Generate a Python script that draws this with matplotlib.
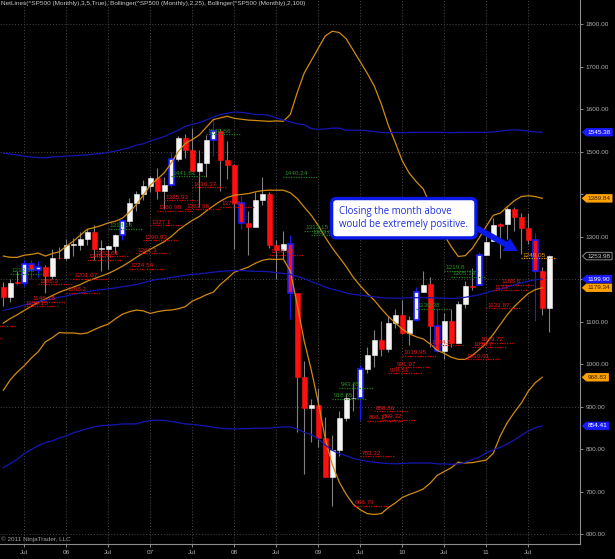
import numpy as np
import matplotlib
matplotlib.use("Agg")
import matplotlib.pyplot as plt
from matplotlib.path import Path

plt.rcParams['font.family'] = ['Liberation Sans', 'DejaVu Sans']

# month index: 0 = Jul 2005, bars run Apr 2005 .. Oct 2011
months = np.arange(-3, 76)
opens = [1180.59, 1156.85, 1191.50, 1191.33, 1234.18, 1220.33, 1228.81, 1207.01, 1249.48, 1248.29,
         1280.08, 1280.66, 1294.83, 1310.61, 1270.09, 1270.20, 1276.66, 1303.82, 1335.85, 1377.94,
         1400.63, 1418.30, 1438.24, 1406.82, 1420.86, 1482.37, 1530.62, 1503.35, 1455.27, 1473.99,
         1526.75, 1549.38, 1481.14, 1468.36, 1378.55, 1330.63, 1322.70, 1385.59, 1400.38, 1280.00,
         1267.38, 1282.83, 1166.36, 968.75, 896.24, 903.25, 825.88, 735.09, 797.87, 872.81,
         919.14, 919.32, 987.48, 1020.62, 1057.08, 1036.19, 1095.63, 1115.10, 1073.87, 1104.49,
         1169.43, 1188.58, 1089.41, 1030.71, 1101.60, 1049.72, 1141.20, 1183.26, 1186.60, 1257.62,
         1289.14, 1328.64, 1329.48, 1365.21, 1345.20, 1321.00, 1292.59, 1219.12, 1131.21]
highs = [1191.88, 1199.56, 1219.59, 1245.15, 1245.86, 1243.13, 1233.34, 1270.64, 1275.80, 1294.90,
         1297.57, 1310.88, 1318.16, 1326.70, 1290.68, 1280.42, 1306.74, 1340.28, 1389.45, 1407.89,
         1431.81, 1441.61, 1461.57, 1438.89, 1498.02, 1535.56, 1540.56, 1555.90, 1503.89, 1538.74,
         1576.09, 1552.76, 1523.57, 1471.77, 1396.02, 1359.68, 1404.57, 1440.24, 1404.05, 1292.17,
         1313.15, 1303.04, 1167.03, 1007.51, 918.85, 943.85, 875.01, 832.98, 888.70, 930.17,
         956.23, 996.68, 1039.47, 1080.15, 1101.36, 1113.69, 1130.38, 1150.45, 1112.42, 1180.69,
         1219.80, 1205.13, 1131.23, 1120.95, 1129.24, 1148.90, 1196.14, 1227.08, 1262.60, 1302.67,
         1344.07, 1332.28, 1370.58, 1370.58, 1356.48, 1356.48, 1307.38, 1229.29, 1256.55]
lows = [1136.15, 1146.18, 1188.30, 1183.55, 1201.07, 1205.35, 1168.20, 1201.07, 1246.59, 1245.74,
        1253.61, 1268.42, 1280.74, 1245.34, 1219.29, 1224.54, 1261.30, 1290.93, 1327.10, 1360.98,
        1385.93, 1403.97, 1389.42, 1363.98, 1416.37, 1476.70, 1484.18, 1454.25, 1370.60, 1439.29,
        1489.56, 1406.10, 1435.65, 1270.05, 1316.75, 1256.98, 1324.35, 1373.07, 1272.00, 1200.44,
        1247.45, 1106.42, 839.80, 741.02, 815.69, 804.30, 734.52, 666.79, 783.32, 866.10,
        888.86, 869.32, 978.51, 991.97, 1019.95, 1029.38, 1085.89, 1071.59, 1044.50, 1101.36,
        1169.43, 1040.78, 1028.33, 1010.91, 1039.70, 1049.72, 1131.87, 1173.00, 1186.60, 1257.62,
        1289.14, 1249.05, 1294.70, 1311.80, 1258.07, 1282.86, 1101.54, 1114.22, 1074.77]
closes = [1156.85, 1191.50, 1191.33, 1234.18, 1220.33, 1228.81, 1207.01, 1249.48, 1248.29, 1280.08,
          1280.66, 1294.83, 1310.61, 1270.09, 1270.20, 1276.66, 1303.82, 1335.85, 1377.94, 1400.63,
          1418.30, 1438.24, 1406.82, 1420.86, 1482.37, 1530.62, 1503.35, 1455.27, 1473.99, 1526.75,
          1549.38, 1481.14, 1468.36, 1378.55, 1330.63, 1322.70, 1385.59, 1400.38, 1280.00, 1267.38,
          1282.83, 1166.36, 968.75, 896.24, 903.25, 825.88, 735.09, 797.87, 872.81, 919.14,
          919.32, 987.48, 1020.62, 1057.08, 1036.19, 1095.63, 1115.10, 1073.87, 1104.49, 1169.43,
          1186.69, 1089.41, 1030.71, 1101.60, 1049.33, 1141.20, 1183.26, 1180.55, 1257.64, 1286.12,
          1327.22, 1325.83, 1363.61, 1345.20, 1320.64, 1292.28, 1218.89, 1131.42, 1253.98]

# Bollinger bands, Apr 2005 .. Sep 2011
band_months = np.arange(-3, 75)
up25 = [1254, 1251, 1251, 1256, 1258, 1261, 1254, 1260, 1264, 1277, 1289, 1303, 1317, 1321, 1326, 1332,
        1336, 1343, 1357, 1375, 1397, 1421, 1435, 1450, 1473, 1500, 1519, 1528, 1539, 1557, 1575, 1579,
        1583, 1578, 1576, 1574, 1573, 1572, 1571, 1572, 1571, 1587, 1639, 1685, 1714, 1743, 1772, 1783,
        1780, 1765, 1738, 1711, 1684, 1654, 1612, 1562, 1521, 1478, 1449, 1429, 1412, 1374, 1326, 1303,
        1276, 1253, 1255, 1272, 1297, 1324, 1350, 1355, 1370, 1384, 1394, 1396, 1394, 1389.84]
mid25 = [1096, 1107, 1116, 1126, 1136, 1145, 1153, 1161, 1169, 1175, 1181, 1187, 1195, 1201, 1207, 1213,
         1221, 1230, 1240, 1251, 1261, 1270, 1279, 1288, 1300, 1315, 1327, 1338, 1347, 1360, 1372, 1383,
         1392, 1397, 1399, 1401, 1405, 1408, 1409, 1409, 1409, 1403, 1389, 1369, 1350, 1326, 1298, 1273,
         1251, 1229, 1204, 1184, 1166, 1150, 1130, 1112, 1097, 1082, 1071, 1064, 1059, 1047, 1032, 1025,
         1016, 1011, 1011, 1020, 1034, 1049, 1070, 1093, 1116, 1135, 1151, 1166, 1175, 1179.34]
lo25 = [938, 963, 981, 996, 1014, 1029, 1052, 1062, 1074, 1073, 1073, 1071, 1073, 1081, 1088, 1094,
        1106, 1117, 1123, 1127, 1125, 1119, 1123, 1126, 1127, 1130, 1135, 1148, 1155, 1163, 1169, 1187,
        1201, 1216, 1222, 1228, 1237, 1244, 1247, 1246, 1247, 1219, 1139, 1053, 986, 909, 824, 763,
        722, 693, 670, 657, 648, 646, 648, 662, 673, 686, 693, 699, 706, 720, 738, 747,
        756, 769, 767, 768, 771, 774, 790, 831, 862, 886, 908, 936, 956, 968.83]
up100 = [1496, 1494, 1492, 1489, 1487, 1486, 1485, 1487, 1488, 1489, 1490, 1491, 1492, 1494, 1495, 1498,
         1501, 1505, 1509, 1515, 1518, 1525, 1530, 1535, 1543, 1550, 1559, 1564, 1568, 1574, 1581, 1587,
         1590, 1593, 1592, 1590, 1587, 1587, 1585, 1579, 1574, 1570, 1565, 1563, 1554, 1552, 1553, 1555,
         1555, 1550, 1550, 1550, 1549, 1547, 1545, 1544, 1545, 1544, 1545, 1545, 1545, 1545, 1545, 1545,
         1544, 1545, 1545, 1545, 1545, 1545, 1546, 1548, 1550, 1551, 1550, 1548, 1546, 1545.38]
mid100 = [1126, 1130, 1134, 1139, 1143, 1147, 1150, 1153, 1157, 1160, 1164, 1167, 1170, 1173, 1175, 1177,
          1179, 1182, 1184, 1187, 1191, 1196, 1199, 1201, 1204, 1206, 1209, 1211, 1212, 1214, 1216, 1218,
          1219, 1220, 1220, 1219, 1218, 1218, 1217, 1215, 1213, 1211, 1206, 1201, 1194, 1188, 1181, 1176,
          1172, 1167, 1164, 1162, 1160, 1158, 1156, 1155, 1155, 1155, 1156, 1156, 1156, 1156, 1155, 1155,
          1154, 1155, 1157, 1160, 1163, 1168, 1172, 1176, 1181, 1186, 1191, 1195, 1198, 1199.90]
lo100 = [756, 766, 776, 789, 799, 808, 815, 819, 826, 831, 838, 843, 848, 852, 855, 856,
         857, 859, 859, 859, 864, 867, 868, 867, 865, 862, 859, 858, 856, 854, 851, 849,
         848, 847, 848, 848, 849, 849, 849, 851, 852, 852, 847, 839, 834, 824, 809, 797,
         789, 784, 778, 774, 771, 769, 767, 766, 765, 766, 767, 767, 767, 767, 765, 765,
         764, 765, 769, 775, 781, 791, 798, 804, 812, 821, 832, 842, 850, 854.41]

highlight = [0, 1, 2, 14, 21, 27, 31, 38, 48, 56, 59, 65, 73]

# NetLines: month where the line starts, price, kind
net_start = [-8, -6, 0, 1, 2, 6, 7, 9, 10, 15, 16, 17, 18, 19, 20, 23, 24, 28, 35,
             47, 48, 49, 50, 51, 52, 53, 54, 58, 63, 64, 65, 66, 67, 68,
             -2, 12, 21, 26, 37, 40, 41, 44, 45, 56, 60, 61,
             71]
net_price = [1060.72, 1090.19, 1136.15, 1146.18, 1188.30, 1168.20, 1201.07, 1245.74, 1253.61, 1224.54,
             1261.30, 1290.93, 1327.10, 1360.98, 1385.93, 1363.98, 1416.37, 1370.60, 1256.98,
             666.79, 783.32, 866.10, 888.86, 869.32, 978.51, 991.97, 1019.95, 1044.50, 1010.91,
             1039.70, 1049.72, 1131.87, 1173.00, 1186.60,
             1212.16, 1318.16, 1441.61, 1540.56, 1440.24, 1313.15, 1303.04, 918.85, 943.85, 1130.38,
             1219.80, 1205.13,
             1249.05]
net_kind = ['low'] * 34 + ['high'] * 12 + ['hold']
net_colors = {'low': ('#d00000', '#e81818'), 'high': ('#1c7a1c', '#2a8c2a'), 'hold': ('#e08a00', '#f09a10')}

date_ticks = [0, 6, 12, 18, 24, 30, 36, 42, 48, 54, 60, 66, 72]
date_labels = ['Jul', '06', 'Jul', '07', 'Jul', '08', 'Jul', '09', 'Jul', '10', 'Jul', '11', 'Jul']
price_ticks = list(range(600, 1900, 100))
grid_levels = [600, 900, 1200, 1500, 1800]

title = ("NetLines(^SP500 (Monthly),3,5,True), Bollinger(^SP500 (Monthly),2,25), "
         "Bollinger(^SP500 (Monthly),2,100)")
note = "Closing the month above\nwould be extremely positive."

fig = plt.figure(figsize=(6.15, 5.59), dpi=100, facecolor='black')
ax = fig.add_axes([0, 15 / 559, 580 / 615, 544 / 559])
ax.set_facecolor('black')
xmin = -3.47
ax.set_xlim(xmin, 79.39)
ax.set_ylim(576.5, 1856.5)
for s in ('top', 'left'):
    ax.spines[s].set_visible(False)
for s in ('right', 'bottom'):
    ax.spines[s].set_color('#8c8c8c')
    ax.spines[s].set_linewidth(0.8)
ax.yaxis.tick_right()
ax.set_yticks(price_ticks, ['' if v in (1200, 1400) else f'{v:.2f}' for v in price_ticks])
ax.set_xticks(date_ticks, date_labels)
ax.tick_params(axis='both', colors='#8c8c8c', labelcolor='#b0b0b0', labelsize=4.6,
               length=2.5, width=0.7, pad=1.5)
for t in date_ticks:
    ax.axvline(t, color='#4a4a4a', lw=0.7, ls=(0, (1, 2)), zorder=0)
for g in grid_levels:
    ax.axhline(g, color='#4a4a4a', lw=0.7, ls=(0, (1, 2)), zorder=0)

# candles
o = np.array(opens)
c = np.array(closes)
up = c >= o
wick_col = ['#1a1aff' if m in highlight else '#808080' for m in months]
ax.vlines(months, lows, highs, color=wick_col, lw=0.8, zorder=2)
body_fc = np.where(up, '#f4f4f4', '#ff1010')
body_ec = ['#1a1aff' if m in highlight else fc for m, fc in zip(months, body_fc)]
body_lw = [1.2 if m in highlight else 0.4 for m in months]
ax.bar(months, np.maximum(np.abs(c - o), 2), bottom=np.minimum(o, c), width=0.74,
       color=body_fc, edgecolor=body_ec, linewidth=body_lw, zorder=3)

# bollinger bands
for b in (up25, mid25, lo25):
    ax.plot(band_months, b, color='#d08a12', lw=0.9, zorder=4)
for b in (up100, mid100, lo100):
    ax.plot(band_months, b, color='#1616b4', lw=0.9, zorder=4)

# net lines
for s, p, k in zip(net_start, net_price, net_kind):
    lc, tc = net_colors[k]
    ax.hlines(p, s, s + 4.8, color=lc, lw=0.9, ls=(0, (1, 1)), zorder=5)
    if s > xmin:
        lab = f'{p:.2f}'.rstrip('0').rstrip('.')
        ax.text(s + 0.2, p + 1, lab, color=tc, fontsize=4.6, ha='left', va='bottom',
                zorder=6, clip_on=True)

ax.text(0.001, 0.998, title, transform=ax.transAxes, ha='left', va='top',
        fontsize=4.6, color='#c8c8c8')
ax.text(0.002, 0.004, '\u00a9 2011 NinjaTrader, LLC', transform=ax.transAxes,
        ha='left', va='bottom', fontsize=4.6, color='#a0a0a0')

# callout
ax.text(45.0, 1343, note, ha='left', va='center', fontsize=6.9, family='Open Sans',
        color='#2030dd', linespacing=1.25, zorder=8,
        bbox=dict(boxstyle='round,pad=0.8,rounding_size=0.5', fc='white', ec='#0a18e8', lw=2.4))
ax.annotate('', xy=(70.5, 1266), xytext=(64.6, 1320), zorder=8,
            arrowprops=dict(arrowstyle='simple,head_length=0.8,head_width=0.9,tail_width=0.35',
                            mutation_scale=12, fc='#0a18e8', ec='#0a18e8', lw=0,
                            shrinkA=0, shrinkB=0))


def tag_shape(x0, y0, width, height, mutation_size):
    pad = mutation_size * 0.2
    x0 -= pad
    y0 -= pad
    width += 2 * pad
    height += 2 * pad
    tip = height * 0.55
    verts = [(x0 - tip, y0 + height / 2), (x0, y0), (x0 + width, y0), (x0 + width, y0 + height),
             (x0, y0 + height), (x0 - tip, y0 + height / 2)]
    return Path(verts, closed=True)


tags = [(up100[-1], '#1a1aff', '#1a1aff', 'white'),
        (mid100[-1], '#1a1aff', '#1a1aff', 'white'),
        (lo100[-1], '#1a1aff', '#1a1aff', 'white'),
        (up25[-1], '#ffa200', '#ffa200', '#3a1e00'),
        (mid25[-1], '#ffa200', '#ffa200', '#3a1e00'),
        (lo25[-1], '#ffa200', '#ffa200', '#3a1e00'),
        (closes[-1], 'black', '#a0a0a0', '#d0d0d0')]
for v, fc, ec, tc in tags:
    ax.annotate(f'{v:.2f}', xy=(1, v), xycoords=('axes fraction', 'data'), xytext=(5.6, 0),
                textcoords='offset points', ha='left', va='center', fontsize=4.6, color=tc,
                annotation_clip=False, zorder=9,
                bbox=dict(boxstyle=tag_shape, fc=fc, ec=ec, lw=0.6))

fig.savefig('out.png', dpi=100, facecolor='black')
